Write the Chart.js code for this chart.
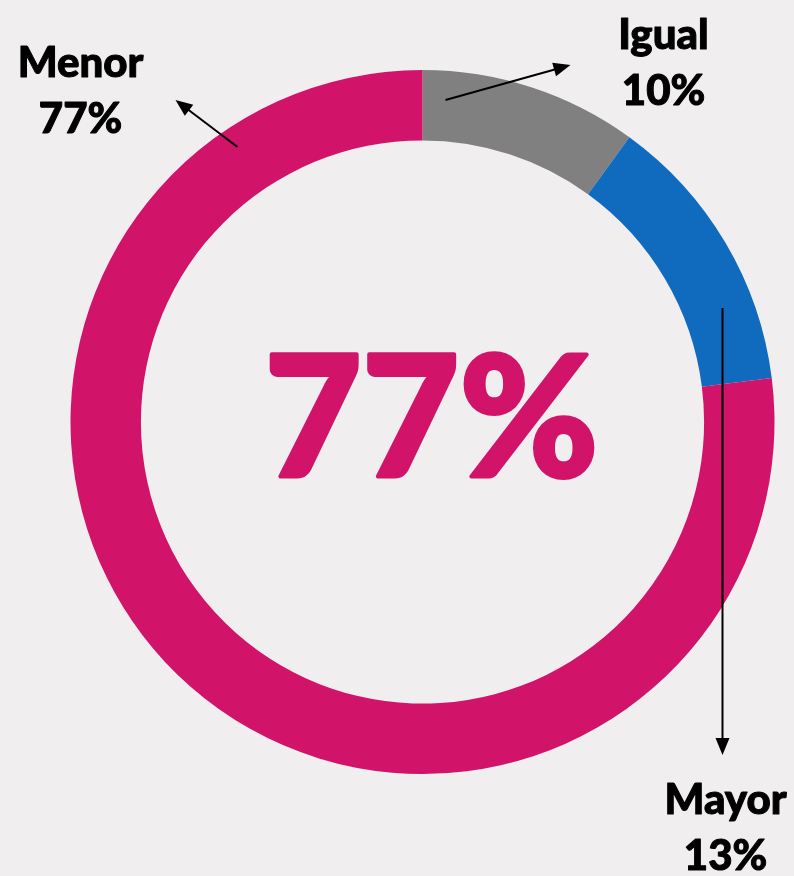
<!DOCTYPE html>
<html>
<head>
<meta charset="utf-8">
<script src="https://cdn.jsdelivr.net/npm/chart.js@4/dist/chart.umd.min.js"></script>
<style>
  html, body { margin: 0; padding: 0; background: #f0eeef; }
  #wrap { width: 794px; height: 876px; position: relative; }
</style>
</head>
<body>
<div id="wrap"><canvas id="chart" width="794" height="876"></canvas></div>
<script>
// data
const categories = ['Igual', 'Mayor', 'Menor'];
const values = [10, 13, 77];
const colors = ['#808080', '#106bbf', '#d11369'];
const centerLabel = '77%';

// callout placement, relative to the ring centre (dx, dy in px)
const callouts = [
    { from: [23, -322], to: [148, -357], text: [241, -387] },   // Igual
    { from: [300, -114], to: [300, 333], text: [303, 378] },    // Mayor
    { from: [-185, -275], to: [-247, -322], text: [-342, -359] } // Menor
];

const FONT = 'Lato, "Open Sans", sans-serif';

function arrow(ctx, x1, y1, x2, y2) {
    const a = Math.atan2(y2 - y1, x2 - x1);
    const len = 17, w = 7;
    ctx.beginPath();
    ctx.moveTo(x1, y1);
    ctx.lineTo(x2 - Math.cos(a) * len * 0.8, y2 - Math.sin(a) * len * 0.8);
    ctx.stroke();
    ctx.beginPath();
    ctx.moveTo(x2, y2);
    ctx.lineTo(x2 - Math.cos(a) * len - Math.sin(a) * w, y2 - Math.sin(a) * len + Math.cos(a) * w);
    ctx.lineTo(x2 - Math.cos(a) * len + Math.sin(a) * w, y2 - Math.sin(a) * len - Math.cos(a) * w);
    ctx.closePath();
    ctx.fill();
}

const calloutPlugin = {
    id: 'callouts',
    afterDraw(chart) {
        const ctx = chart.ctx;
        const arc = chart.getDatasetMeta(0).data[0];
        const cx = arc.x, cy = arc.y;
        ctx.save();
        // centre text
        ctx.fillStyle = colors[2];
        ctx.strokeStyle = colors[2];
        ctx.lineWidth = 4;
        ctx.lineJoin = 'round';
        ctx.font = '900 168px ' + FONT;
        ctx.textAlign = 'center';
        ctx.textBaseline = 'middle';
        ctx.fillText(centerLabel, cx + 9, cy);
        ctx.strokeText(centerLabel, cx + 9, cy);

        ctx.strokeStyle = '#000';
        ctx.fillStyle = '#000';
        callouts.forEach((c, i) => {
            ctx.lineWidth = 2;
            arrow(ctx, cx + c.from[0], cy + c.from[1], cx + c.to[0], cy + c.to[1]);
            ctx.font = '900 42px ' + FONT;
            ctx.textAlign = 'center';
            ctx.textBaseline = 'middle';
            ctx.lineWidth = 1;
            const tx = cx + c.text[0], ty = cy + c.text[1];
            ctx.fillText(categories[i], tx, ty);
            ctx.strokeText(categories[i], tx, ty);
            ctx.fillText(values[i] + '%', tx, ty + 56);
            ctx.strokeText(values[i] + '%', tx, ty + 56);
        });
        ctx.restore();
    }
};

new Chart(document.getElementById('chart'), {
    type: 'doughnut',
    data: {
        labels: categories,
        datasets: [{
            data: values,
            backgroundColor: colors,
            borderWidth: 0
        }]
    },
    options: {
        responsive: false,
        animation: false,
        cutout: '80%',
        layout: { padding: { left: 70, right: 19, top: 70, bottom: 102 } },
        plugins: {
            legend: { display: false },
            tooltip: { enabled: false }
        }
    },
    plugins: [calloutPlugin]
});
</script>
</body>
</html>
